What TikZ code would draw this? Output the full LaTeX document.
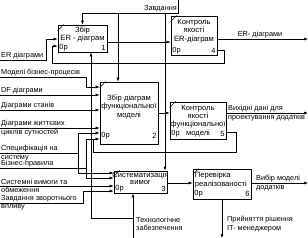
\documentclass[tikz,border=0pt]{standalone}
\usepackage{fontspec}
\setmainfont{Liberation Sans}
\usetikzlibrary{arrows.meta, positioning}
\tikzset{
  func/.style={
    rectangle,
    draw,
    line width=0.7pt,
    inner sep=0pt
  },
  ftext/.style={align=center, inner sep=1pt, font=\fontsize{7.6}{8.4}\selectfont},
  tag/.style={inner sep=1.5pt, font=\fontsize{7.5}{8.4}\selectfont},
  lbl/.style={align=left, inner sep=1pt, font=\fontsize{7.3}{8.4}\selectfont},
  flow/.style={-{Latex[length=4pt,width=3pt]}, line width=0.6pt},
  link/.style={line width=0.6pt}
}

\begin{document}
\begin{tikzpicture}[x=1pt,y=-1pt]
\path[use as bounding box, fill=white] (0,0) rectangle (308,238);

\node[func, minimum width=49pt, minimum height=27pt] (erCollect) at (82.5,38.5) {};
\node[func, minimum width=46pt, minimum height=39pt] (erCheck) at (194,35.5) {};
\node[func, minimum width=58pt, minimum height=62pt] (fmCollect) at (129,113) {};
\node[func, minimum width=56pt, minimum height=37pt] (fmCheck) at (198,120.5) {};
\node[func, minimum width=53pt, minimum height=22pt] (reqSys) at (140.5,182) {};
\node[func, minimum width=58pt, minimum height=30pt] (implCheck) at (222,184) {};

\node[ftext, below=1pt of erCollect.north] (erCollectT) {Збір\\ER - діаграм};
\node[ftext, below=2.5pt of erCheck.north] (erCheckT) {Контроль\\якості\\ER-діаграм};
\node[ftext, below=12pt of fmCollect.north] (fmCollectT) {Збір діаграм\\функціональної\\моделі};
\node[ftext, below=2pt of fmCheck.north] (fmCheckT) {Контроль\\якості\\функціональної\\моделі};
\node[ftext, below=0pt of reqSys.north] (reqSysT) {Систематизація\\[-1.5pt]вимог};
\node[ftext, align=left, below right=2.5pt and 1pt of implCheck.north west] (implCheckT) {Перевірка\\реалізованості};

\node[tag, anchor=south west] (erCollectP) at (erCollect.south west) {0p};
\node[tag, anchor=south east] (erCollectN) at (erCollect.south east) {1};
\node[tag, anchor=south west] (erCheckP) at (erCheck.south west) {0p};
\node[tag, anchor=south east] (erCheckN) at (erCheck.south east) {4};
\node[tag, anchor=south west] (fmCollectP) at ([yshift=4pt]fmCollect.south west) {0p};
\node[tag, anchor=south east] (fmCollectN) at ([yshift=4pt]fmCollect.south east) {2};
\node[tag, anchor=south west] (fmCheckP) at ([yshift=1pt]fmCheck.south west) {0p};
\node[tag, anchor=south east] (fmCheckN) at ([yshift=1pt]fmCheck.south east) {5};
\node[tag, anchor=south west] (reqSysP) at (reqSys.south west) {0p};
\node[tag, anchor=south east] (reqSysN) at (reqSys.south east) {3};
\node[tag, anchor=south west] (implCheckP) at ([yshift=1pt]implCheck.south west) {0p};
\node[tag, anchor=south east] (implCheckN) at ([yshift=1pt]implCheck.south east) {6};

\foreach \f in {erCollect,erCheck,fmCollect,fmCheck,reqSys,implCheck}
  \draw[link] ([yshift=-6pt]\f.north west) -- ([xshift=6pt]\f.north west);

\coordinate (taskIn) at (178,0);
\coordinate (taskBus) at (178,13);
\coordinate (taskB2) at (118,13);
\coordinate (taskB3) at (165,13);
\draw[flow] (taskIn) -- (taskBus) -| (erCollect.north);
\draw[flow] (taskB2) -- (taskB2 |- fmCollect.north);
\draw[flow] (taskB3) -- (taskB3 |- reqSys.north);
\node[lbl, anchor=south east] (taskL) at (taskBus) {Завдання};

\coordinate (inER) at (0,60);
\draw[flow] (inER) -- (46,60) |- (erCollect.west |- 0,39);
\node[lbl, anchor=south west] (inERL) at (inER) {ER діаграми};
\draw[flow] (erCollect.east |- 0,42) -- (erCheck.west |- 0,42);
\coordinate (outER) at (308,39);
\draw[flow] (erCheck.east |- outER) -- (outER);
\node[lbl, anchor=south] (outERL) at (260,39) {ER- діаграми};
\draw[flow] (erCheck.east |- 0,50) -- (224,50) |- (52,63) |- (erCollect.west |- 0,46);

\coordinate (inModels) at (0,77);
\draw[flow] (inModels) -- (86,77) |- (fmCollect.west |- 0,87);
\node[lbl, anchor=south west] (inModelsL) at (inModels) {Моделі бізнес-процесів};
\coordinate (inDF) at (0,95);
\draw[flow] (inDF) -- (inDF -| fmCollect.west);
\node[lbl, anchor=south west] (inDFL) at (inDF) {DF діаграми};
\coordinate (inState) at (0,110);
\draw[flow] (inState) -- (inState -| fmCollect.west);
\node[lbl, anchor=south west] (inStateL) at (inState) {Діаграми станів};
\coordinate (inLife) at (0,128);
\draw[flow] (inLife) -- (inLife -| fmCollect.west);
\node[lbl, anchor=west] (inLifeL) at (inLife) {Діаграми життєвих\\циклів сутностей};

\coordinate (inSpec) at (0,153);
\coordinate (specJ) at (78,153);
\draw[link] (inSpec) -- (specJ);
\draw[flow] (specJ) |- (fmCollect.west |- 0,133);
\draw[flow] (specJ) |- (reqSys.west |- 0,173);
\node[lbl, anchor=west] (inSpecL) at (inSpec) {Специфікація на\\систему};
\coordinate (inRules) at (0,168);
\coordinate (rulesJ) at (86,168);
\draw[link] (inRules) -- (rulesJ);
\draw[flow] (rulesJ) |- (fmCollect.west |- 0,139);
\draw[flow] (rulesJ) |- (reqSys.west |- 0,178);
\node[lbl, anchor=south west] (inRulesL) at (inRules) {Бізнес-правила};
\coordinate (fbJ) at (93,139);
\draw[link] (fmCheck.east |- 0,132) -- (236,132) |- (93,152) -- (fbJ);

\coordinate (inSys) at (0,186);
\draw[flow] (inSys) -- (inSys -| reqSys.west);
\node[lbl, anchor=west] (inSysL) at (inSys) {Системні вимоги та\\обмеження};
\coordinate (inFeed) at (0,203);
\draw[flow] (inFeed) -- (83,203) |- (reqSys.west |- 0,191);
\node[lbl, anchor=west] (inFeedL) at (inFeed) {Завдання зворотнього\\впливу};

\draw[flow] (fmCollect.east |- 0,113) -- (fmCheck.west |- 0,113);
\coordinate (outData) at (308,113);
\draw[flow] (fmCheck.east |- outData) -- (outData);
\node[lbl, anchor=west] (outDataL) at (227,113) {Вихідні дані для\\проектування додатків};

\draw[flow] (reqSys.east |- 0,183) -- (implCheck.west |- 0,183);
\coordinate (outModel) at (308,183);
\draw[flow] (implCheck.east |- outModel) -- (outModel);
\node[lbl, anchor=west] (outModelL) at (255,183) {Вибір моделі\\додатків};
\coordinate (outDecision) at (222,238);
\draw[flow] (implCheck.south) -- (outDecision);
\node[lbl, anchor=north west] (outDecisionL) at (226,215) {Прийняття рішення\\IT- менеджером};

\coordinate (mechIn) at (133,238);
\coordinate (mechJ) at (133,218);
\coordinate (mechCol) at (91,0);
\draw[flow] (mechIn) -- (mechIn |- reqSys.south);
\draw[flow] (mechJ) -| (mechCol |- erCollect.south);
\node[lbl, anchor=north west] (mechL) at (135,216) {Технологічне\\забезпечення};
\end{tikzpicture}
\end{document}
